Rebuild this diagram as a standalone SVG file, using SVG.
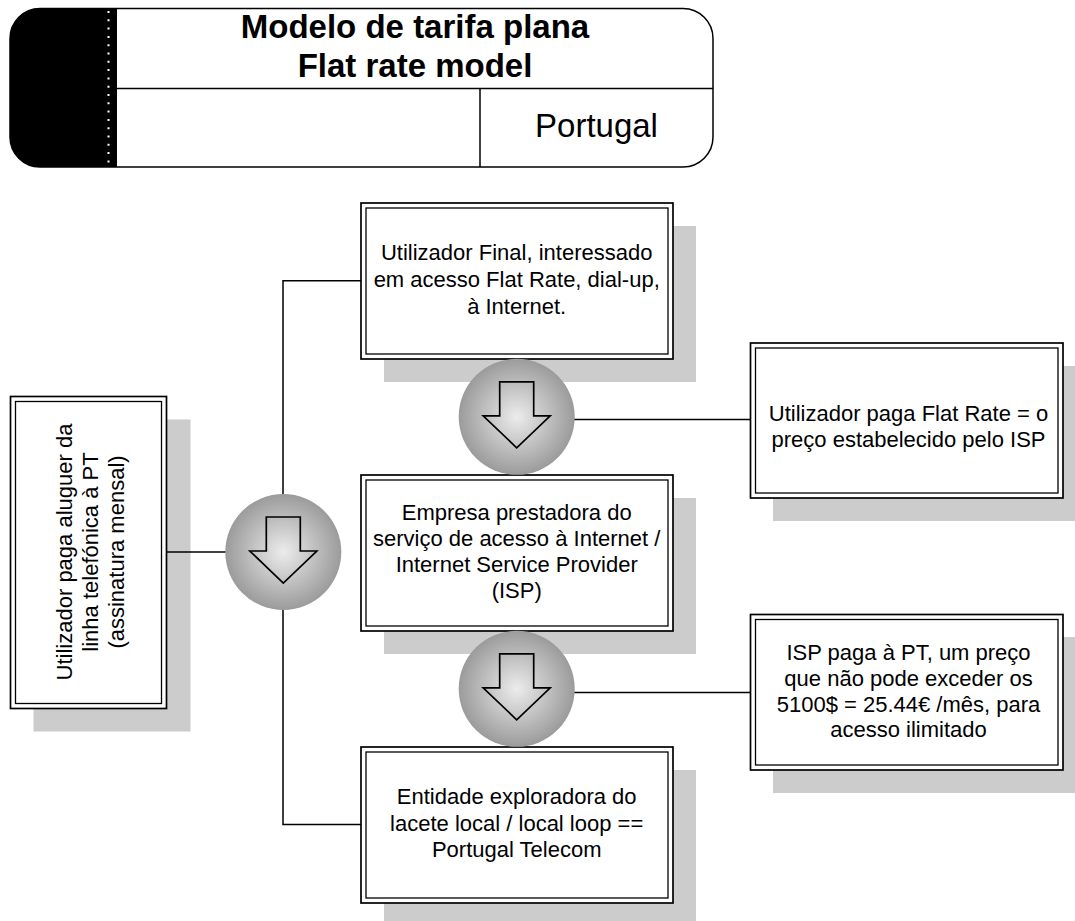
<svg xmlns="http://www.w3.org/2000/svg" width="1075" height="921" viewBox="0 0 1075 921">
<defs>
<radialGradient id="ball" cx="50%" cy="50%" r="50%">
<stop offset="0" stop-color="#ececec"/>
<stop offset="1" stop-color="#9b9b9b"/>
</radialGradient>
<style>
.sh{fill:#cccccc;stroke:none}
.bo{fill:#ffffff;stroke:#000;stroke-width:1.7}
.bi{fill:none;stroke:#000;stroke-width:1.3}
.t{font-family:"Liberation Sans",Arial,sans-serif;font-size:22px;fill:#000;text-anchor:middle}
.h{font-family:"Liberation Sans",Arial,sans-serif;font-size:33px;fill:#000;text-anchor:middle}
.c{fill:none;stroke:#000;stroke-width:1.5}
.ball{fill:url(#ball);stroke:none}
.arr{fill:none;stroke:#000;stroke-width:1.7;stroke-linejoin:miter}
</style>
</defs>
<rect width="1075" height="921" fill="#ffffff"/>

<g id="header">
<rect x="10" y="8.5" width="703" height="158.5" rx="30" ry="30" fill="#fff" stroke="#000" stroke-width="1.5"/>
<path d="M117,8.5 H40 A30,30 0 0 0 10,38.5 V137 A30,30 0 0 0 40,167 H117 Z" fill="#000"/>
<line x1="108.5" y1="11" x2="108.5" y2="166" stroke="#fff" stroke-width="2" stroke-dasharray="2 6.3"/>
<line x1="117" y1="88.5" x2="713" y2="88.5" stroke="#000" stroke-width="1.5"/>
<line x1="480" y1="88.5" x2="480" y2="167" stroke="#000" stroke-width="1.5"/>
<text class="h" x="415" y="38" font-weight="bold">Modelo de tarifa plana</text>
<text class="h" x="415" y="77" font-weight="bold">Flat rate model</text>
<text class="h" x="596.5" y="136.5">Portugal</text>
</g>

<g id="shadows">
<rect class="sh" x="33.5" y="419.5" width="157" height="312"/>
<rect class="sh" x="384" y="226" width="312" height="156"/>
<rect class="sh" x="384" y="498" width="312" height="156"/>
<rect class="sh" x="384" y="770" width="312" height="156"/>
<rect class="sh" x="773" y="366" width="313" height="155"/>
<rect class="sh" x="773" y="637" width="313" height="156"/>
</g>

<g id="connectors">
<polyline class="c" points="361,280.7 283,280.7 283,824.5 361,824.5"/>
<line class="c" x1="166.5" y1="552" x2="230" y2="552"/>
<line class="c" x1="570" y1="419.5" x2="750" y2="419.5"/>
<line class="c" x1="570" y1="692.5" x2="750" y2="692.5"/>
</g>

<g id="box-left">
<rect class="bo" x="10.5" y="396.5" width="156" height="312"/>
<rect class="bi" x="15.5" y="401.5" width="146" height="302"/>
<g class="t" transform="translate(88.5,552) rotate(-90)">
<text x="0" y="-17">Utilizador paga aluguer da</text>
<text x="0" y="9">linha telefónica à PT</text>
<text x="0" y="35">(assinatura mensal)</text>
</g>
</g>

<g id="box-user">
<rect class="bo" x="361" y="203" width="312" height="156"/>
<rect class="bi" x="366" y="208" width="302" height="146"/>
<text class="t" x="516.7" y="260">Utilizador Final, interessado</text>
<text class="t" x="516.7" y="287">em acesso Flat Rate, dial-up,</text>
<text class="t" x="516.7" y="313.5">à Internet.</text>
</g>

<g id="box-isp">
<rect class="bo" x="361" y="475" width="312" height="156"/>
<rect class="bi" x="366" y="480" width="302" height="146"/>
<text class="t" x="516.7" y="520">Empresa prestadora do</text>
<text class="t" x="516.7" y="546">serviço de acesso à Internet /</text>
<text class="t" x="516.7" y="571.8">Internet Service Provider</text>
<text class="t" x="516.7" y="597.5">(ISP)</text>
</g>

<g id="box-pt">
<rect class="bo" x="361" y="747" width="312" height="156"/>
<rect class="bi" x="366" y="752" width="302" height="146"/>
<text class="t" x="516.7" y="804">Entidade exploradora do</text>
<text class="t" x="516.7" y="830.5">lacete local / local loop ==</text>
<text class="t" x="516.7" y="856.7">Portugal Telecom</text>
</g>

<g id="box-flatrate">
<rect class="bo" x="750.5" y="343" width="312.5" height="155"/>
<rect class="bi" x="755.5" y="348" width="302.5" height="145"/>
<text class="t" x="908.5" y="420.7">Utilizador paga Flat Rate = o</text>
<text class="t" x="908.5" y="446.7">preço estabelecido pelo ISP</text>
</g>

<g id="box-isppays">
<rect class="bo" x="750.5" y="614.5" width="312.5" height="155.5"/>
<rect class="bi" x="755.5" y="619.5" width="302.5" height="145.5"/>
<text class="t" x="908.5" y="660">ISP paga à PT, um preço</text>
<text class="t" x="908.5" y="686">que não pode exceder os</text>
<text class="t" x="908.5" y="711.7">5100$ = 25.44€ /mês, para</text>
<text class="t" x="908.5" y="737.3">acesso ilimitado</text>
</g>

<g id="step-left">
<circle class="ball" cx="283.3" cy="552" r="58"/>
<path class="arr" d="M266.3,517 H300.3 V551 H316.8 L283.3,583 L249.8,551 H266.3 Z"/>
</g>

<g id="step-1">
<circle class="ball" cx="516.7" cy="416.8" r="58"/>
<path class="arr" d="M499.7,381.8 H533.7 V415.8 H550.2 L516.7,447.8 L483.2,415.8 H499.7 Z"/>
</g>

<g id="step-2">
<circle class="ball" cx="516.7" cy="688.8" r="58"/>
<path class="arr" d="M499.7,653.8 H533.7 V687.8 H550.2 L516.7,719.8 L483.2,687.8 H499.7 Z"/>
</g>
</svg>
